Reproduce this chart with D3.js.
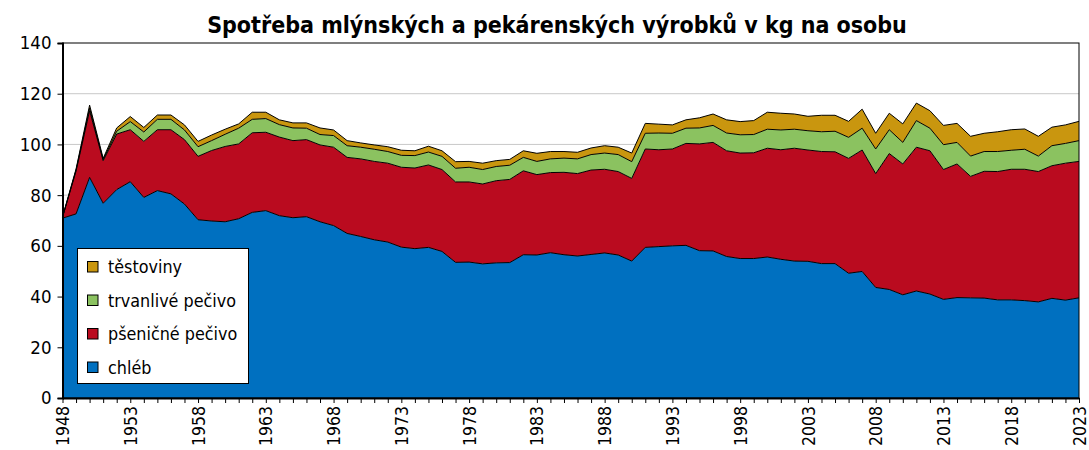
<!DOCTYPE html>
<html>
<head>
<meta charset="utf-8">
<script src="https://cdn.jsdelivr.net/npm/d3@7"></script>
<style>
  html, body { margin: 0; padding: 0; background: #fff; }
  svg { display: block; }
  text { font-family: "DejaVu Sans Condensed", "DejaVu Sans", sans-serif; fill: #000; }
</style>
</head>
<body>
<svg id="chart" width="1089" height="450"></svg>
<script>
const years = d3.range(1948, 2024);
const chleb = [70.9,72.6,87.0,76.8,82.2,85.3,79.1,81.8,80.5,76.5,70.3,69.8,69.5,70.7,73.2,73.9,71.9,71.1,71.5,69.5,68.0,64.9,63.7,62.4,61.5,59.5,58.9,59.4,57.8,53.5,53.6,52.9,53.3,53.4,56.5,56.4,57.3,56.5,56.0,56.6,57.2,56.4,54.0,59.4,59.7,60.0,60.2,58.1,58.0,55.8,55.0,55.0,55.6,54.7,54.0,53.9,53.0,53.0,49.2,49.9,43.6,42.8,40.7,42.2,41.0,38.9,39.6,39.5,39.4,38.7,38.7,38.4,37.9,39.3,38.6,39.5];
const psenicne = [0.4,16.9,26.3,16.8,21.9,20.5,22.1,24.0,25.3,25.4,25.0,27.8,29.7,29.5,31.4,30.9,31.0,30.4,30.4,30.3,30.9,30.0,30.6,30.9,31.1,31.5,31.8,32.5,32.3,31.7,31.6,31.5,32.4,32.8,33.1,31.7,31.6,32.5,32.5,33.3,33.0,32.9,32.6,38.8,38.2,38.2,40.2,42.1,42.8,41.7,41.6,41.7,42.9,43.2,44.5,43.9,44.2,44.1,45.3,47.9,44.9,53.6,51.6,56.7,56.5,51.2,52.7,47.9,50.0,50.6,51.5,51.8,51.4,52.3,54.0,53.8];
const trvanlive = [0.0,0.4,1.0,0.4,1.1,3.2,3.7,4.1,4.1,3.8,3.8,3.9,4.8,6.2,5.3,5.4,4.9,5.0,4.5,4.1,4.6,4.6,4.6,4.8,4.6,4.7,4.9,5.1,5.2,5.4,5.8,5.7,5.6,5.6,5.3,5.2,5.4,5.6,5.8,6.1,6.4,6.7,6.6,6.2,6.6,6.2,6.0,6.3,6.7,7.0,7.2,7.2,7.5,7.8,7.5,7.6,7.8,8.1,8.3,8.6,9.7,9.4,8.5,10.5,8.9,9.8,8.5,8.0,7.8,7.9,7.5,7.9,6.1,7.9,7.8,8.2];
const testoviny = [0.1,0.4,1.2,0.5,1.3,2.0,1.8,1.7,1.7,2.0,2.1,2.2,2.0,1.7,2.8,2.5,1.9,2.0,2.1,2.6,2.2,2.0,1.7,1.7,1.9,2.0,1.9,2.3,2.2,2.6,2.3,2.5,2.3,2.3,2.6,3.2,2.9,2.6,2.6,2.6,2.9,2.9,3.4,3.9,3.5,3.3,3.3,4.0,4.5,5.2,5.2,5.5,6.7,6.6,6.0,5.7,6.5,6.3,6.3,7.5,6.2,6.5,7.3,6.9,6.9,7.6,7.5,7.8,7.2,7.8,8.1,8.0,7.8,7.3,7.3,7.6];
const seriesNames = ["chléb", "pšeničné pečivo", "trvanlivé pečivo", "těstoviny"];
const seriesColors = ["#0070C0", "#BA0B1F", "#8BC260", "#C9960F"];
const yTicks = [0, 20, 40, 60, 80, 100, 120, 140];
const xLabelYears = d3.range(1948, 2024, 5);
const title = "Spotřeba mlýnských a pekárenských výrobků v kg na osobu";

const svg = d3.select("#chart");
const W = 1089, H = 450;
const m = { left: 62.5, right: 10, top: 43, bottom: 52 };
const x = d3.scaleLinear().domain([1948, 2023]).range([m.left, W - m.right]);
const y = d3.scaleLinear().domain([0, 140]).range([H - m.bottom, m.top]);

const keys = ["chleb", "psenicne", "trvanlive", "testoviny"];
const rows = years.map((yr, i) => ({ year: yr, chleb: chleb[i], psenicne: psenicne[i], trvanlive: trvanlive[i], testoviny: testoviny[i] }));
const stacked = d3.stack().keys(keys)(rows);

// gridlines
svg.append("g").selectAll("line").data(yTicks.filter(t => t > 0 && t < 140)).join("line")
  .attr("x1", m.left).attr("x2", W - m.right)
  .attr("y1", d => y(d)).attr("y2", d => y(d))
  .attr("stroke", "#c8c8c8").attr("stroke-width", 1);

const area = d3.area().x(d => x(d.data.year)).y0(d => y(d[0])).y1(d => y(d[1]));
const topLine = d3.line().x(d => x(d.data.year)).y(d => y(d[1]));

svg.append("g").selectAll("path").data(stacked).join("path")
  .attr("d", area).attr("fill", (d, i) => seriesColors[i]);
svg.append("g").selectAll("path").data(stacked).join("path")
  .attr("d", topLine).attr("fill", "none").attr("stroke", "#000").attr("stroke-width", 1).attr("stroke-linejoin", "round");

// frame
svg.append("rect").attr("x", m.left).attr("y", m.top)
  .attr("width", W - m.right - m.left).attr("height", H - m.bottom - m.top)
  .attr("fill", "none").attr("stroke", "#000").attr("stroke-width", 1);

// y axis
const yAxis = d3.axisLeft(y).tickValues(yTicks).tickSize(5).tickPadding(6).tickFormat(d3.format("d"));
const gy = svg.append("g").attr("transform", `translate(${m.left},0)`).call(yAxis);
gy.select(".domain").attr("stroke", "#000").attr("stroke-width", 2);
gy.selectAll("line").attr("stroke", "#000");
gy.selectAll("text").style("font-size", "18.5px").attr("fill", "#000");

// x axis
const xAxis = d3.axisBottom(x).tickValues(years).tickSize(5).tickSizeOuter(0)
  .tickFormat(d => xLabelYears.includes(d) ? String(d) : "");
const gx = svg.append("g").attr("transform", `translate(0,${H - m.bottom})`).call(xAxis);
gx.select(".domain").attr("stroke", "#000").attr("stroke-width", 2);
gx.selectAll("line").attr("stroke", "#000");
gx.selectAll("text").style("font-size", "17.5px").attr("fill", "#000")
  .attr("transform", "rotate(-90)").attr("text-anchor", "end")
  .attr("x", -8).attr("y", 0).attr("dy", "0.35em");

// title
svg.append("text").attr("x", 557).attr("y", 32.5).attr("text-anchor", "middle")
  .style("font-size", "23px").style("font-weight", "bold").text(title);

// legend
const lg = svg.append("g");
lg.append("rect").attr("x", 77.5).attr("y", 248.5).attr("width", 171).attr("height", 135)
  .attr("fill", "#fff").attr("stroke", "#000").attr("stroke-width", 1);
const legendOrder = [3, 2, 1, 0];
legendOrder.forEach((si, k) => {
  const cy = 267 + k * 33.5;
  lg.append("rect").attr("x", 87.5).attr("y", cy - 5.5).attr("width", 10.5).attr("height", 10.5)
    .attr("fill", seriesColors[si]).attr("stroke", "#000").attr("stroke-width", 1);
  lg.append("text").attr("x", 108).attr("y", cy).attr("dy", "0.35em")
    .style("font-size", "17.8px").text(seriesNames[si]);
});
</script>
</body>
</html>
